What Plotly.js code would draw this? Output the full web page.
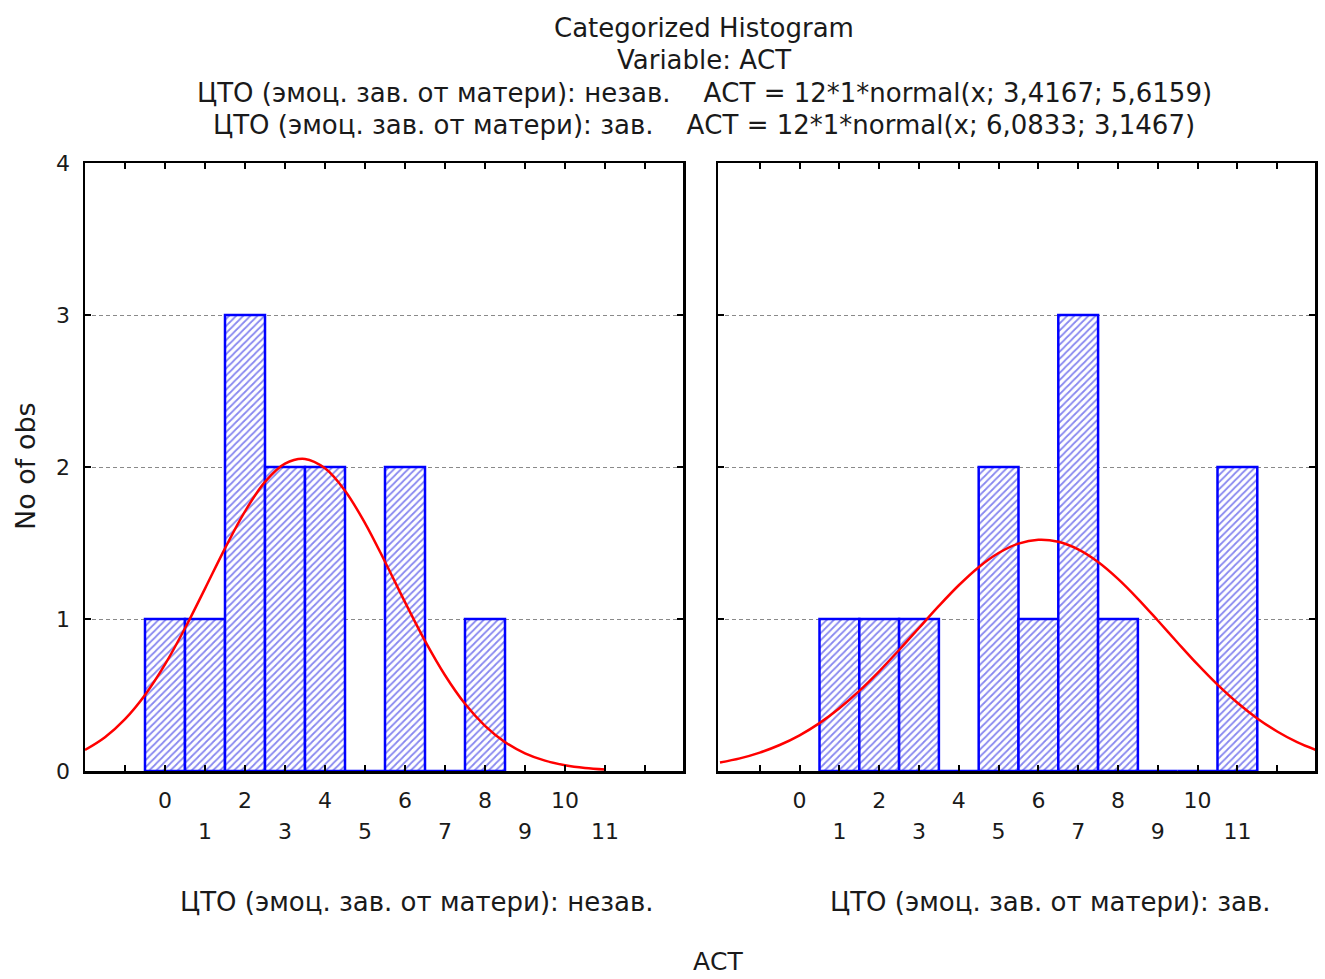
<!DOCTYPE html>
<html><head><meta charset="utf-8">
<script src="https://cdn.plot.ly/plotly-3.0.1.min.js"></script>
<style>body{margin:0;padding:0;background:#fff}#chart{width:1325px;height:979px}</style>
</head><body><div id="chart"></div>
<script>
// categories (ACT values)
const binsLeft = [0,1,2,3,4,5,6,7,8];
const countsLeft = [1,1,3,2,2,0,2,0,1];
const binsRight = [1,2,3,4,5,6,7,8,9,10,11];
const countsRight = [1,1,1,0,2,1,3,1,0,0,2];

// fitted normal curves
const curveXLeft = [-2,-1.5,-1,-0.5,0,0.5,1,1.5,2,2.5,3,3.5,4,4.5,5,5.5,6,6.5,7,7.5,8,8.5,9,9.5,10,10.5,11];
const curveYLeft = [0.138,0.222,0.341,0.500,0.701,0.939,1.200,1.465,1.708,1.902,2.022,2.053,1.991,1.844,1.631,1.377,1.111,0.856,0.630,0.442,0.297,0.190,0.116,0.068,0.038,0.020,0.010];
const curveXRight = [-2,-1.5,-1,-0.5,0,0.5,1,1.5,2,2.5,3,3.5,4,4.5,5,5.5,6,6.5,7,7.5,8,8.5,9,9.5,10,10.5,11,11.5,12,12.5,13];
const curveYRight = [0.056,0.083,0.121,0.171,0.235,0.315,0.413,0.527,0.656,0.796,0.941,1.086,1.222,1.341,1.434,1.496,1.521,1.508,1.458,1.375,1.264,1.133,0.990,0.844,0.701,0.568,0.449,0.346,0.260,0.190,0.136];

const evenTicks = [-1,0,1,2,3,4,5,6,7,8,9,10,11,12];
const evenLabels = ['', '0','', '2','', '4','', '6','', '8','', '10','', ''];
const oddTicks = [1,3,5,7,9,11];
const oddLabels = ['1','3','5','7','9','11'];
const yTicks = [0,1,2,3,4];

const titleLines = [
  'Categorized Histogram',
  'Variable: АСТ',
  'ЦТО (эмоц. зав. от матери): незав.    АСТ = 12*1*normal(x; 3,4167; 5,6159)',
  'ЦТО (эмоц. зав. от матери): зав.    АСТ = 12*1*normal(x; 6,0833; 3,1467)'
];
const panelLabels = ['ЦТО (эмоц. зав. от матери): незав.', 'ЦТО (эмоц. зав. от матери): зав.'];
const xTitle = 'АСТ';
const yTitle = 'No of obs';

const FONT = 'DejaVu Sans, Verdana, sans-serif';
const TXT = '#1a1a1a';
const blue = '#0000ff';

function barTrace(x, y, xa, ya){
  return {type:'bar', x:x, y:y, xaxis:xa, yaxis:ya, width:1,
    marker:{color:'#ffffff', line:{color:blue, width:2.5},
      pattern:{shape:'/', fgcolor:'#1010e0', bgcolor:'#ffffff', size:5, solidity:0.35, fillmode:'overlay'}},
    hoverinfo:'skip', showlegend:false};
}
function curveTrace(x, y, xa, ya){
  return {type:'scatter', mode:'lines', x:x, y:y, xaxis:xa, yaxis:ya,
    line:{color:'#ff0000', width:2.5, shape:'spline'}, hoverinfo:'skip', showlegend:false};
}
const data = [
  barTrace(binsLeft, countsLeft, 'x', 'y'),
  curveTrace(curveXLeft, curveYLeft, 'x', 'y'),
  barTrace(binsRight, countsRight, 'x2', 'y2'),
  curveTrace(curveXRight, curveYRight, 'x2', 'y2'),
  {type:'scatter', x:[0], y:[0], xaxis:'x3', yaxis:'y', mode:'markers', marker:{opacity:0}, hoverinfo:'skip', showlegend:false},
  {type:'scatter', x:[0], y:[0], xaxis:'x4', yaxis:'y2', mode:'markers', marker:{opacity:0}, hoverinfo:'skip', showlegend:false}
];

const H = 608, TOP = 163, BOTTOM = 771;
function py(px){ return (BOTTOM - px)/H; }
const W = 1230, LEFT = 85;
function pxX(px){ return (px - LEFT)/W; }

const xBase = {
  showgrid:false, zeroline:false, ticks:'inside', ticklen:6, tickwidth:2, tickcolor:'#000',
  showline:true, linecolor:'#000', linewidth:2.5, mirror:'ticks',
  tickmode:'array', tickvals:evenTicks, ticktext:evenLabels,
  tickfont:{family:FONT, size:22, color:TXT}, ticklabelstandoff:8, fixedrange:true
};
const xOdd = {
  showgrid:false, zeroline:false, ticks:'', showline:false,
  tickmode:'array', tickvals:oddTicks, ticktext:oddLabels,
  tickfont:{family:FONT, size:22, color:TXT}, ticklabelstandoff:45, side:'bottom', fixedrange:true
};
const yBase = {
  range:[0,4], showgrid:true, gridcolor:'#8a8a8a', griddash:'4px,3px', gridwidth:1, zeroline:false,
  ticks:'inside', ticklen:6, tickwidth:2, tickcolor:'#000',
  showline:true, linecolor:'#000', linewidth:2.5, mirror:'ticks',
  tickmode:'array', tickvals:yTicks,
  tickfont:{family:FONT, size:22, color:TXT}, fixedrange:true
};

const dom1 = [0, pxX(683)], dom2 = [pxX(718), 1];
const rng1 = [-2, 12.95], rng2 = [-2.05, 12.95];

const annotations = [];
const titleY = [28, 60, 93, 125];
titleLines.forEach((t,i)=>{
  annotations.push({text:t, xref:'paper', yref:'paper', x:pxX(704), y:py(titleY[i]), xanchor:'center', yanchor:'middle',
    showarrow:false, font:{family:FONT, size:26, color:TXT}});
});
annotations.push({text:panelLabels[0], xref:'paper', yref:'paper', x:pxX(416), y:py(902), xanchor:'center', yanchor:'middle', showarrow:false, font:{family:FONT, size:26, color:TXT}});
annotations.push({text:panelLabels[1], xref:'paper', yref:'paper', x:pxX(1050), y:py(902), xanchor:'center', yanchor:'middle', showarrow:false, font:{family:FONT, size:26, color:TXT}});
annotations.push({text:xTitle, xref:'paper', yref:'paper', x:pxX(718), y:py(961), xanchor:'center', yanchor:'middle', showarrow:false, font:{family:FONT, size:25, color:TXT}});
annotations.push({text:yTitle, xref:'paper', yref:'paper', x:pxX(25), y:py(466), xanchor:'center', yanchor:'middle', textangle:-90, showarrow:false, font:{family:FONT, size:27, color:TXT}});

const layout = {
  width:1325, height:979, paper_bgcolor:'#ffffff', plot_bgcolor:'#ffffff',
  margin:{l:LEFT, r:10, t:TOP, b:979-BOTTOM, pad:0},
  showlegend:false, barmode:'overlay',
  xaxis: Object.assign({}, xBase, {domain:dom1, range:rng1, anchor:'y'}),
  xaxis2: Object.assign({}, xBase, {domain:dom2, range:rng2, anchor:'y2'}),
  xaxis3: Object.assign({}, xOdd, {overlaying:'x', range:rng1, anchor:'y'}),
  xaxis4: Object.assign({}, xOdd, {overlaying:'x2', range:rng2, anchor:'y2'}),
  yaxis: Object.assign({}, yBase, {anchor:'x', domain:[0,1], ticklabelstandoff:8}),
  yaxis2: Object.assign({}, yBase, {anchor:'x2', domain:[0,1], showticklabels:false}),
  annotations: annotations
};
Plotly.newPlot('chart', data, layout, {displayModeBar:false, staticPlot:true});
</script>
</body></html>
